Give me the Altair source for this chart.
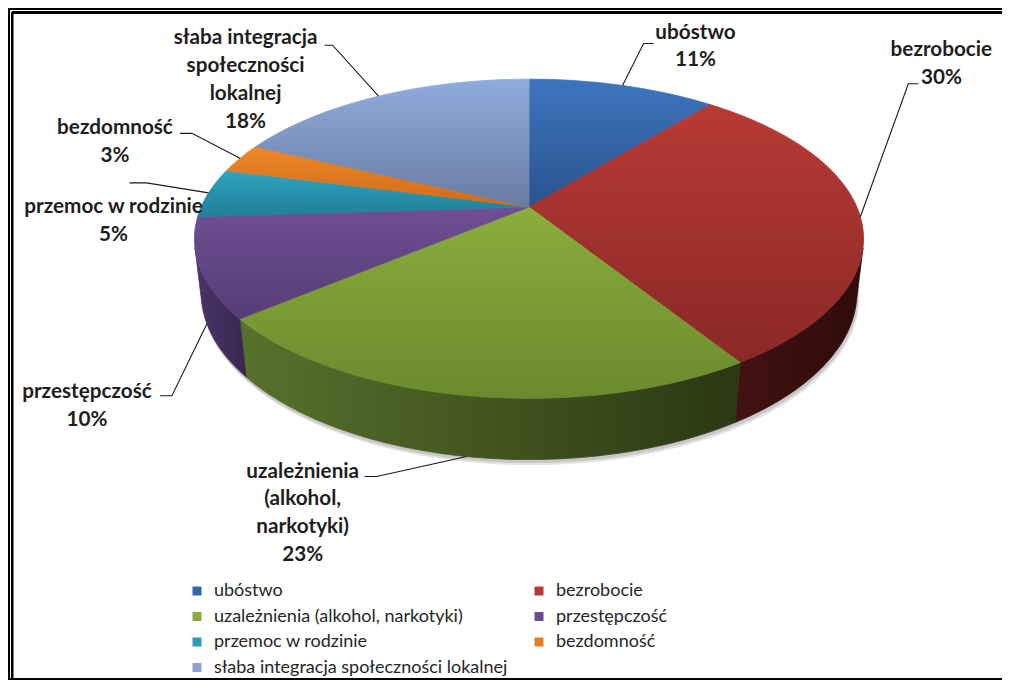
import math
import numpy as np
import pandas as pd
import altair as alt

# ---------------- data ----------------
categories = [
    "ubóstwo",
    "bezrobocie",
    "uzależnienia (alkohol, narkotyki)",
    "przestępczość",
    "przemoc w rodzinie",
    "bezdomność",
    "słaba integracja społeczności lokalnej",
]
shares = [11, 30, 23, 10, 5, 3, 18]

# label wrapping (layout of the data labels)
label_lines = {
    "ubóstwo": ["ubóstwo"],
    "bezrobocie": ["bezrobocie"],
    "uzależnienia (alkohol, narkotyki)": ["uzależnienia", "(alkohol,", "narkotyki)"],
    "przestępczość": ["przestępczość"],
    "przemoc w rodzinie": ["przemoc w rodzinie"],
    "bezdomność": ["bezdomność"],
    "słaba integracja społeczności lokalnej": ["słaba integracja", "społeczności", "lokalnej"],
}

# ---------------- styles ----------------
legend_colors = ["#3265a8", "#b3393a", "#8aab3f", "#6a4c8e", "#2e99b4", "#e57d25", "#8ba3d0"]
top_grad = {
    "ubóstwo": ("#3d75bd", "#2a5390"),
    "bezrobocie": ("#b83a36", "#8a2825"),
    "uzależnienia (alkohol, narkotyki)": ("#8aae3d", "#6b8a2e"),
    "przestępczość": ("#6f4f95", "#563c76"),
    "przemoc w rodzinie": ("#2ea4c0", "#1f7f97"),
    "bezdomność": ("#ee8826", "#cf6b1c"),
    "słaba integracja społeczności lokalnej": ("#90acdc", "#687ca3"),
}
side_grad = {
    "ubóstwo": ("#1d3a63", "#152b4a"),
    "bezrobocie": ("#421211", "#2f0b0a"),
    "uzależnienia (alkohol, narkotyki)": ("#57722c", "#2b3813"),
    "przestępczość": ("#4a3468", "#3a2850"),
    "przemoc w rodzinie": ("#1c6678", "#175768"),
    "bezdomność": ("#8a4a14", "#7a4011"),
    "słaba integracja społeczności lokalnej": ("#46536d", "#3b4760"),
}
# label placement: (dx, dy) of first text line from the rim anchor,
# and the two points of the short leader tick (relative to the rim anchor)
label_layout = {
    "ubóstwo": ((73, -53), (31, -42), (21, -42)),
    "bezrobocie": ((81, -167), (58, -133), (48, -133)),
    "uzależnienia (alkohol, narkotyki)": ((-164, 15), (-102, 20), (-90, 20)),
    "przestępczość": ((-120, 68), (-47, 72), (-35, 72)),
    "przemoc w rodzinie": ((-95, 14), (-79, -10), (-62, -10)),
    "bezdomność": ((-125, -30), (-60, -25), (-48, -25)),
    "słaba integracja społeczności lokalnej": ((-133, -58), (-54, -51), (-46, -51)),
}
# legend entries are laid out column by column: 4 rows x 2 columns
legend_order = [categories[i] for i in (0, 2, 4, 6, 1, 3, 5)]

# ---------------- 3-D view (perspective) ----------------
F = 1458.0
DIST = 4.447
SPHI = 0.4675
CPHI = math.sqrt(1 - SPHI ** 2)
DEPTH = 0.1865
CX, CY = 529.0, 207.0


def proj(X, Y, Z):
    yc = Y * SPHI + Z * CPHI
    d = DIST + Y * CPHI - Z * SPHI
    return CX + F * X / d, CY - F * yc / d


total = float(sum(shares))
vis_lo = math.acos(-1.0 / (DIST * CPHI))
vis_hi = 2 * math.pi - vis_lo

poly_rows = []
rim = {}
cum = 0.0
for cat, v in zip(categories, shares):
    a0 = 2 * math.pi * cum / total
    a1 = 2 * math.pi * (cum + v) / total
    cum += v
    n = max(6, int(math.degrees(a1 - a0)))
    pts = [proj(0, 0, 0)] + [proj(math.sin(t), math.cos(t), 0) for t in np.linspace(a0, a1, n)]
    for i, (x, y) in enumerate(pts):
        poly_rows.append({"cat": cat, "part": "top", "i": i, "x": x, "y": y})
    s0, s1 = max(a0, vis_lo), min(a1, vis_hi)
    if s1 > s0:
        m = max(4, int(math.degrees(s1 - s0)))
        pts = [proj(math.sin(t), math.cos(t), 0) for t in np.linspace(s0, s1, m)]
        pts += [proj(math.sin(t), math.cos(t), -DEPTH) for t in np.linspace(s1, s0, m)]
        for i, (x, y) in enumerate(pts):
            poly_rows.append({"cat": cat, "part": "side", "i": i, "x": x, "y": y})
    mid = (a0 + a1) / 2
    z = -DEPTH if math.cos(mid) < -0.2 else 0.0
    rim[cat] = proj(math.sin(mid), math.cos(mid), z)

# soft shadow under the pie (bottom outline)
shadow_rows = []
for k, (ox, oy) in enumerate([(2, 5), (1, 3)]):
    for i, t in enumerate(np.linspace(0, 2 * math.pi, 181)):
        x, y = proj(math.sin(t), math.cos(t), -DEPTH)
        shadow_rows.append({"k": k, "i": i, "x": x + ox, "y": y + oy})

poly = pd.DataFrame(poly_rows)
shadow = pd.DataFrame(shadow_rows)

LH = 27.8
text_rows, leader_rows = [], []
for cat, v in zip(categories, shares):
    rx, ry = rim[cat]
    (dx, dy), t1, t2 = label_layout[cat]
    lines = label_lines[cat] + [f"{round(100 * v / total)}%"]
    for k, s in enumerate(lines):
        text_rows.append({"cat": cat, "text": s, "x": rx + dx, "y": ry + dy + k * LH})
    for i, (x, y) in enumerate([(rx + t1[0], ry + t1[1]), (rx + t2[0], ry + t2[1]), (rx, ry)]):
        leader_rows.append({"cat": cat, "i": i, "x": x, "y": y})
texts = pd.DataFrame(text_rows)
leaders = pd.DataFrame(leader_rows)
legend_df = pd.DataFrame({"cat": categories, "x": [CX] * len(categories), "y": [CY] * len(categories)})

# ---------------- chart ----------------
W, H = 994, 672
XS = alt.Scale(domain=[8, 8 + W], nice=False, zero=False)
YS = alt.Scale(domain=[8, 8 + H], reverse=True, nice=False, zero=False)


def ex():
    return alt.X("x:Q", scale=XS, axis=None)


def ey():
    return alt.Y("y:Q", scale=YS, axis=None)


def grad(c0, c1, horizontal=False):
    return {
        "gradient": "linear",
        "x1": 0, "y1": 0,
        "x2": 1 if horizontal else 0, "y2": 0 if horizontal else 1,
        "stops": [{"offset": 0, "color": c0}, {"offset": 1, "color": c1}],
    }


layers = []

# legend carrier (hidden under the pie apex)
layers.append(
    alt.Chart(legend_df).mark_square(size=1, opacity=1).encode(
        x=ex(), y=ey(),
        color=alt.Color(
            "cat:N",
            scale=alt.Scale(domain=categories, range=legend_colors),
            legend=alt.Legend(
                orient="none", legendX=180, legendY=574, columns=2,
                values=legend_order,
                columnPadding=22, rowPadding=7.5, symbolType="square",
                symbolSize=81, symbolStrokeWidth=0, labelFont="Lato",
                labelFontSize=18, labelColor="#262626", labelOffset=8,
                title=None, padding=0, labelLimit=500, symbolOpacity=1,
            ),
        ),
    )
)

for k, col in enumerate(["#d0d0d0", "#b8b8b8"]):
    layers.append(
        alt.Chart(shadow).transform_filter(alt.datum.k == k).mark_line(
            interpolate="linear-closed", fill=col, stroke=col, strokeWidth=1, opacity=0.6
        ).encode(x=ex(), y=ey(), order=alt.Order("i:Q"))
    )

for part, gmap, horiz in [("side", side_grad, True), ("top", top_grad, False)]:
    for cat in categories:
        if not ((poly["cat"] == cat) & (poly["part"] == part)).any():
            continue
        g = grad(*gmap[cat], horizontal=horiz)
        layers.append(
            alt.Chart(poly)
            .transform_filter((alt.datum.cat == cat) & (alt.datum.part == part))
            .mark_line(interpolate="linear-closed", fill=g, stroke=g, strokeWidth=0.8)
            .encode(x=ex(), y=ey(), order=alt.Order("i:Q"))
        )

layers.append(
    alt.Chart(leaders).mark_line(color="#1a1a1a", strokeWidth=1.1).encode(
        x=ex(), y=ey(), detail="cat:N", order=alt.Order("i:Q")
    )
)
layers.append(
    alt.Chart(texts).mark_text(
        font="Lato", fontSize=20.7, fontWeight="bold", color="#1e1e1e",
        align="center", baseline="middle",
    ).encode(x=ex(), y=ey(), text="text:N")
)

# double frame
frame = [
    (dict(x=alt.value(0), x2=alt.value(W), y=alt.value(1)), 2),
    (dict(x=alt.value(4), x2=alt.value(W), y=alt.value(4.5)), 2),
    (dict(x=alt.value(0.8), y=alt.value(0), y2=alt.value(H)), 1.6),
    (dict(x=alt.value(4.3), y=alt.value(4), y2=alt.value(H)), 1.6),
    (dict(x=alt.value(0), x2=alt.value(W), y=alt.value(H - 1)), 2),
]
for enc, sw in frame:
    layers.append(alt.Chart(legend_df).mark_rule(color="black", strokeWidth=sw).encode(**enc))

chart = (
    alt.layer(*layers)
    .properties(width=W, height=H, autosize="none", padding=0, background="white")
    .configure_view(stroke=None)
)

chart.save("out.html", embed_options={"renderer": "svg", "actions": False})
